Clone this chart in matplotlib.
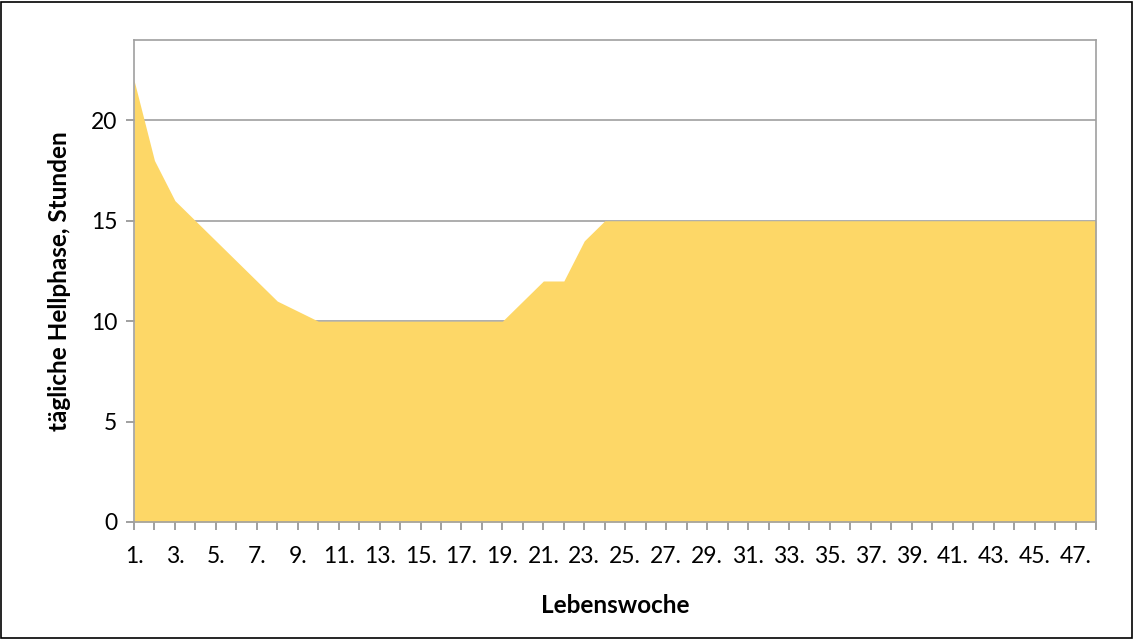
import matplotlib
matplotlib.use("Agg")
import matplotlib.pyplot as plt
from matplotlib.patches import Rectangle

weeks = list(range(1, 49))
hours = [22, 18, 16, 15, 14, 13, 12, 11, 10.5, 10,
         10, 10, 10, 10, 10, 10, 10, 10, 10, 11,
         12, 12, 14, 15] + [15] * 24
tick_labels = [f"{w}." for w in weeks]

plt.rcParams['font.family'] = ['Lato', 'DejaVu Sans']

fig = plt.figure(figsize=(11.34, 6.39), dpi=100)
ax = fig.add_axes([134/1134, 1-522/639, (1096-134)/1134, (522-40)/639])

ax.fill_between(weeks, hours, 0, color='#FDD767', linewidth=0, zorder=2)
ax.set_xlim(1, 48)
ax.set_ylim(0, 24)
ax.set_yticks([0, 5, 10, 15, 20])
ax.set_xticks(weeks)
ax.set_xticklabels([l if i % 2 == 0 else '' for i, l in enumerate(tick_labels)])
ax.yaxis.grid(True, color='#A0A0A0', linewidth=1.2, zorder=1)
ax.set_axisbelow(True)
for s in ax.spines.values():
    s.set_color('#A0A0A0')
    s.set_linewidth(1.2)
    s.set_zorder(3)
ax.tick_params(axis='both', direction='out', length=6, width=1.2, color='#909090',
               labelsize=16.5, labelcolor='black')
ax.tick_params(axis='x', pad=11)
ax.tick_params(axis='y', pad=6)
ax.set_xlabel('Lebenswoche', fontsize=17.5, fontweight='bold', labelpad=20)
ax.set_ylabel('tägliche Hellphase, Stunden', fontsize=17.5, fontweight='bold', labelpad=14)

fig.patches.append(Rectangle((1/1134, 1/639), 1-3/1134, 1-3/639, transform=fig.transFigure,
                             fill=False, edgecolor='black', linewidth=1.2))
fig.savefig('out.png', dpi=100)
